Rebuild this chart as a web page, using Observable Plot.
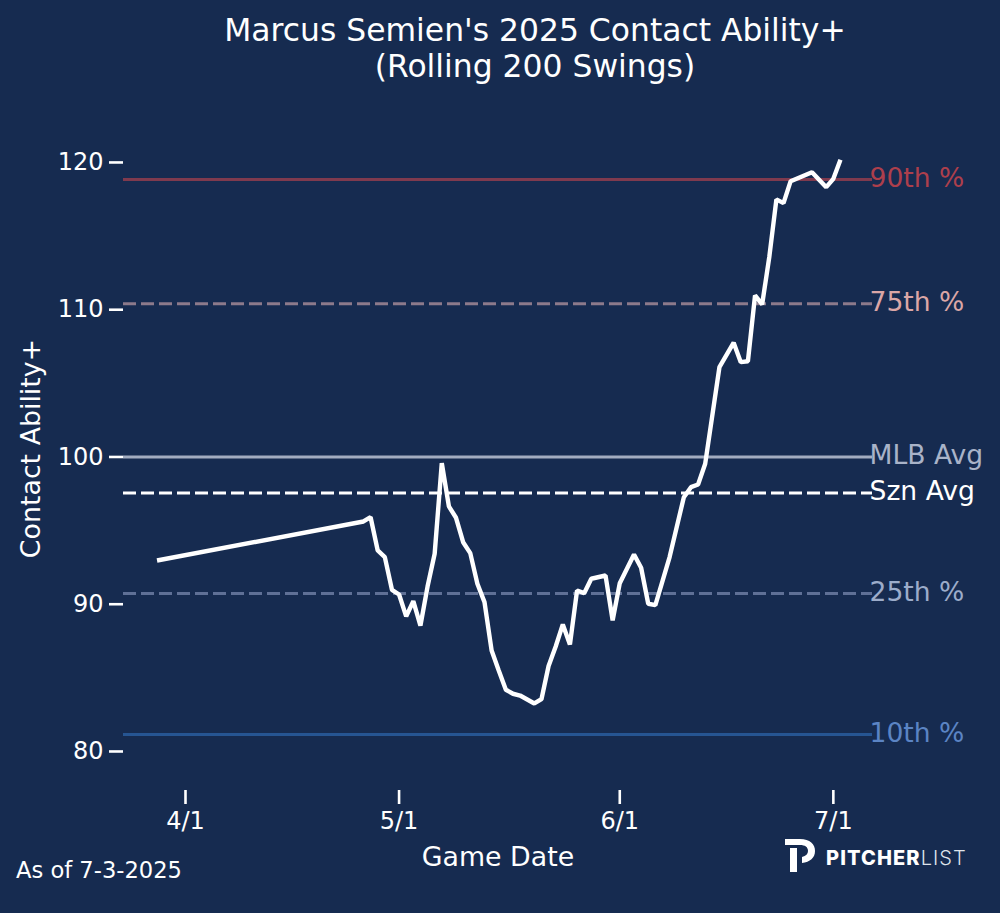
<!DOCTYPE html>
<html>
<head>
<meta charset="utf-8">
<script src="https://cdn.jsdelivr.net/npm/d3@7"></script>
<script src="https://cdn.jsdelivr.net/npm/@observablehq/plot@0.6"></script>
<style>
  html, body { margin: 0; background: #162b50; }
  body { position: relative; width: 1000px; height: 913px; overflow: hidden; color: #fff;
         font-family: "DejaVu Sans", sans-serif; }
  #title { position: absolute; left: 35px; width: 1000px; top: 12px; text-align: center;
           font-size: 31.4px; line-height: 36px; }
  #chart { position: absolute; left: 0; top: 90px; }
  #asof { position: absolute; left: 16px; top: 857px; font-size: 22.6px; }
  #logo { position: absolute; left: 784px; top: 838px; width: 190px; height: 38px; }
  #logo svg { position: absolute; left: 0; top: 0; }
  #logo span { position: absolute; left: 42px; top: 8px; font-family: Inter, sans-serif; font-size: 20px;
               letter-spacing: 1.1px; white-space: nowrap; line-height: 24px; }
  #logo b { font-weight: 800; }
  #logo i { font-style: normal; font-weight: 300; color: #dfe3ea; }
</style>
</head>
<body>
<div id="title">Marcus Semien's 2025 Contact Ability+<br>(Rolling 200 Swings)</div>
<div id="chart"></div>
<div id="asof">As of 7-3-2025</div>
<div id="logo">
  <svg width="36" height="38" viewBox="0 0 36 38"><path d="M1 1 H16 C26 1 31 6 31 13 C31 20 26 24 18 25 V19 C22 18 24 16 24 13 C24 9 21 7 16 7 H1 Z M6 10 L13 10 V34 L6 34 Z" fill="#fff"/></svg>
  <span><b>PITCHER</b><i>LIST</i></span>
</div>
<script>
// rolling 200 swing values
const gameDates = [
  "2025-03-28", "2025-04-26", "2025-04-27", "2025-04-28", "2025-04-29", "2025-04-30",
  "2025-05-01", "2025-05-02", "2025-05-03", "2025-05-04", "2025-05-05", "2025-05-06",
  "2025-05-07", "2025-05-08", "2025-05-09", "2025-05-10", "2025-05-11", "2025-05-12",
  "2025-05-13", "2025-05-14", "2025-05-15", "2025-05-16", "2025-05-17", "2025-05-18",
  "2025-05-19", "2025-05-20", "2025-05-21", "2025-05-22", "2025-05-23", "2025-05-24",
  "2025-05-25", "2025-05-26", "2025-05-27", "2025-05-28", "2025-05-30", "2025-05-31",
  "2025-06-01", "2025-06-03", "2025-06-04", "2025-06-05", "2025-06-06", "2025-06-08",
  "2025-06-10", "2025-06-11", "2025-06-12", "2025-06-13", "2025-06-15", "2025-06-17",
  "2025-06-18", "2025-06-19", "2025-06-20", "2025-06-21", "2025-06-22", "2025-06-23",
  "2025-06-24", "2025-06-25", "2025-06-28", "2025-06-30", "2025-07-01", "2025-07-02"
];
const contactPlus = [
  92.97, 95.62, 95.91, 93.65, 93.2, 90.98,
  90.66, 89.17, 90.21, 88.54, 91.2, 93.43,
  99.58, 96.64, 95.87, 94.21, 93.47, 91.39,
  90.14, 86.86, 85.5, 84.19, 83.92, 83.8,
  83.53, 83.26, 83.55, 85.8, 87.13, 88.63,
  87.27, 90.93, 90.75, 91.73, 91.95, 88.9,
  91.43, 93.38, 92.48, 90.03, 89.94, 93.2,
  97.27, 97.95, 98.13, 99.54, 106.1, 107.76,
  106.44, 106.5, 110.97, 110.36, 113.57, 117.49,
  117.24, 118.73, 119.34, 118.32, 118.89, 120.18
];

// reference lines
const refLabels = ["90th %", "75th %", "MLB Avg", "Szn Avg", "25th %", "10th %"];
const refValues = [118.85, 110.4, 100, 97.56, 90.73, 81.15];

const yTicks = [80, 90, 100, 110, 120];
const xTicks = ["2025-04-01", "2025-05-01", "2025-06-01", "2025-07-01"];

const refStyle = {
  "90th %": { line: "#7f3a4e", text: "#ad3f4c", dash: null },
  "75th %": { line: "#8c7a8b", text: "#dba6a6", dash: "13,5" },
  "MLB Avg": { line: "#a2acc0", text: "#a9b3c8", dash: null },
  "Szn Avg": { line: "#ffffff", text: "#ffffff", dash: "13,5" },
  "25th %": { line: "#5f7096", text: "#9cacca", dash: "13,5" },
  "10th %": { line: "#265592", text: "#5b84c4", dash: null }
};

const rows = gameDates.map((d, i) => ({ date: new Date(d), value: contactPlus[i] }));
const refs = refLabels.map((label, i) => ({ label, value: refValues[i] }));

const chart = Plot.plot({
  width: 1000,
  height: 823,
  marginLeft: 123,
  marginRight: 128,
  marginTop: 16,
  marginBottom: 123,
  style: { background: "transparent", color: "#fff", fontFamily: "DejaVu Sans", overflow: "visible" },
  x: { type: "utc", domain: [new Date("2025-03-23T07:00:00Z"), new Date("2025-07-06T12:00:00Z")] },
  y: { domain: [77.35, 123.8] },
  marks: [
    ...refs.map(r => Plot.ruleY([r.value], {
      stroke: refStyle[r.label].line,
      strokeWidth: 3,
      strokeDasharray: refStyle[r.label].dash
    })),
    Plot.line(rows, { x: "date", y: "value", stroke: "#fff", strokeWidth: 4.4, strokeLinejoin: "miter", strokeLinecap: "butt" }),
    ...refs.map(r => Plot.text([r], {
      y: "value",
      text: "label",
      frameAnchor: "right",
      textAnchor: "start",
      dx: -3,
      dy: -1,
      fill: refStyle[r.label].text,
      fontSize: 26.6
    })),
    Plot.axisY({
      ticks: yTicks, tickSize: 14, tickPadding: 6, strokeWidth: 2.6, fontSize: 24,
      label: "Contact Ability+", labelAnchor: "center", labelArrow: "none", labelOffset: 103
    }),
    Plot.axisX({
      ticks: xTicks.map(d => new Date(d)), tickSize: 14, tickPadding: 7, strokeWidth: 2.6, fontSize: 24,
      tickFormat: d3.utcFormat("%-m/%-d"),
      label: "Game Date", labelAnchor: "center", labelArrow: "none", labelOffset: 75
    })
  ]
});
document.getElementById("chart").append(chart);
chart.querySelectorAll('[aria-label="x-axis label"] text, [aria-label="y-axis label"] text').forEach(t => t.style.fontSize = "26.8px");
</script>
</body>
</html>
